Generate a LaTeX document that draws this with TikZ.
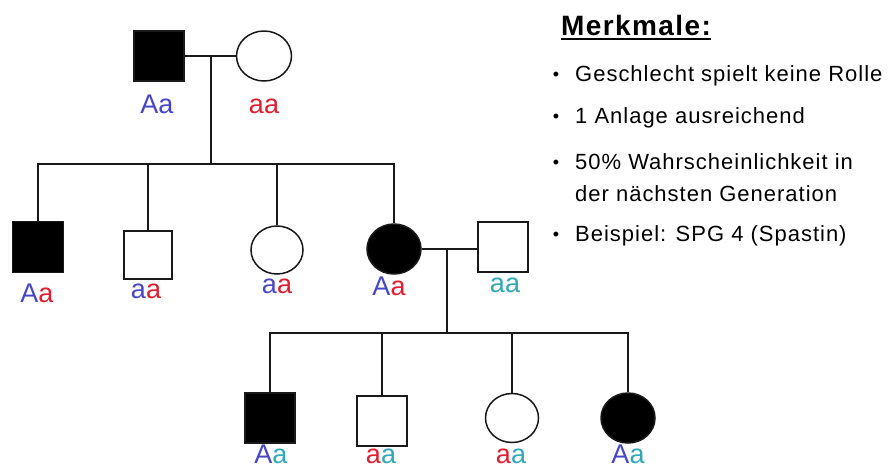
\documentclass[tikz,border=0pt]{standalone}
\usepackage{fontspec}
\setmainfont{Liberation Sans}
\newfontfamily\bulfont[LetterSpace=4.5]{Liberation Sans}
\newfontfamily\headfont[LetterSpace=5]{Liberation Sans}
\usetikzlibrary{shapes.geometric}
\definecolor{gb}{RGB}{70,70,200}
\definecolor{gr}{RGB}{224,30,48}
\definecolor{gt}{RGB}{48,168,186}
\definecolor{ink}{RGB}{25,25,25}
\newcommand{\Ab}{\textcolor{gb}{A}}
\newcommand{\ab}{\textcolor{gb}{a}}
\newcommand{\ar}{\textcolor{gr}{a}}
\newcommand{\at}{\textcolor{gt}{a}}
\tikzset{
  sqbox/.style={draw=ink, line width=1.5, minimum size=50, inner sep=0, rectangle},
  fsq/.style={sqbox, fill=black},
  osq/.style={sqbox, fill=white},
  circbox/.style={ellipse, draw=ink, line width=1.5, minimum width=53, minimum height=49, inner sep=0},
  fci/.style={circbox, fill=black},
  oci/.style={circbox, fill=white},
  ln/.style={draw=ink, line width=1.5},
  lab/.style={anchor=base, inner sep=0, font=\fontsize{27}{30}\selectfont},
  bul/.style={anchor=base west, inner sep=0, font=\bulfont\fontsize{22}{26}\selectfont},
  dot/.style={anchor=base, inner sep=0, font=\fontsize{18}{22}\selectfont},
}
\begin{document}
\begin{tikzpicture}[x=1pt,y=-1pt]
\useasboundingbox[fill=white] (0,0) rectangle (892,467);

% generation 1
\node[fsq] (fa) at (159,56) {};
\node[oci, minimum width=55, minimum height=50] (mo) at (264,56) {};
\draw[ln] (fa.east) -- (mo.west);
\coordinate (c1) at (211,56);
\coordinate (h2) at (211,164);
\draw[ln] (c1) -- (h2);
\node[lab] (lfa) at (157,113) {\Ab\ab};
\node[lab] (lmo) at (264,113) {\ar\ar};

% generation 2
\node[fsq, minimum size=51] (k1) at (38,247) {};
\node[osq, minimum size=48] (k2) at (148,255) {};
\node[oci, minimum width=52, minimum height=48] (k3) at (277,250) {};
\node[fci, minimum width=54, minimum height=50] (k4) at (394,249) {};
\node[osq] (sp) at (503,247) {};
\draw[ln] (k1.north) -- (k1.north |- h2) -- (k4.north |- h2) -- (k4.north);
\draw[ln] (k2.north) -- (k2.north |- h2);
\draw[ln] (k3.north) -- (k3.north |- h2);
\draw[ln] (k4.east) -- (k4.east -| sp.west);
\coordinate (c2) at (447,249);
\coordinate (h3) at (447,333);
\draw[ln] (c2) -- (h3);
\node[lab] (lk1) at (37,302) {\Ab\ar};
\node[lab] (lk2) at (146,298) {\ab\ar};
\node[lab] (lk3) at (277,293) {\ab\ar};
\node[lab] (lk4) at (389,295) {\Ab\ar};
\node[lab] (lsp) at (505,292) {\at\at};

% generation 3
\node[fsq] (e1) at (270,418) {};
\node[osq] (e2) at (382,421) {};
\node[oci] (e3) at (512,418) {};
\node[fci, minimum width=54, minimum height=50] (e4) at (628,418) {};
\draw[ln] (e1.north) -- (e1.north |- h3) -- (e4.north |- h3) -- (e4.north);
\draw[ln] (e2.north) -- (e2.north |- h3);
\draw[ln] (e3.north) -- (e3.north |- h3);
\node[lab] (le1) at (271,463) {\Ab\at};
\node[lab] (le2) at (381,463) {\ar\at};
\node[lab] (le3) at (511,463) {\ar\at};
\node[lab] (le4) at (628,463) {\Ab\at};

% text
\node[anchor=base west, inner sep=0, font=\headfont\bfseries\fontsize{28}{32}\selectfont] (mk) at (561,35) {Merkmale:};
\draw[line width=2] ([yshift=-3.5]mk.base west) -- ([yshift=-3.5]mk.base east);
\node[dot] (d1) at (556,80) {•};
\node[bul] (t1) at (575,81) {Geschlecht spielt keine Rolle};
\node[dot] (d2) at (556,122) {•};
\node[bul] (t2) at (575,123) {1 Anlage ausreichend};
\node[dot] (d3) at (556,168) {•};
\node[bul] (t3) at (575,169) {50\% Wahrscheinlichkeit in};
\node[bul] (t3b) at (575,201) {der nächsten Generation};
\node[dot] (d4) at (556,240) {•};
\node[bul] (t4) at (575,241) {Beispiel: SPG 4 (Spastin)};
\end{tikzpicture}
\end{document}
